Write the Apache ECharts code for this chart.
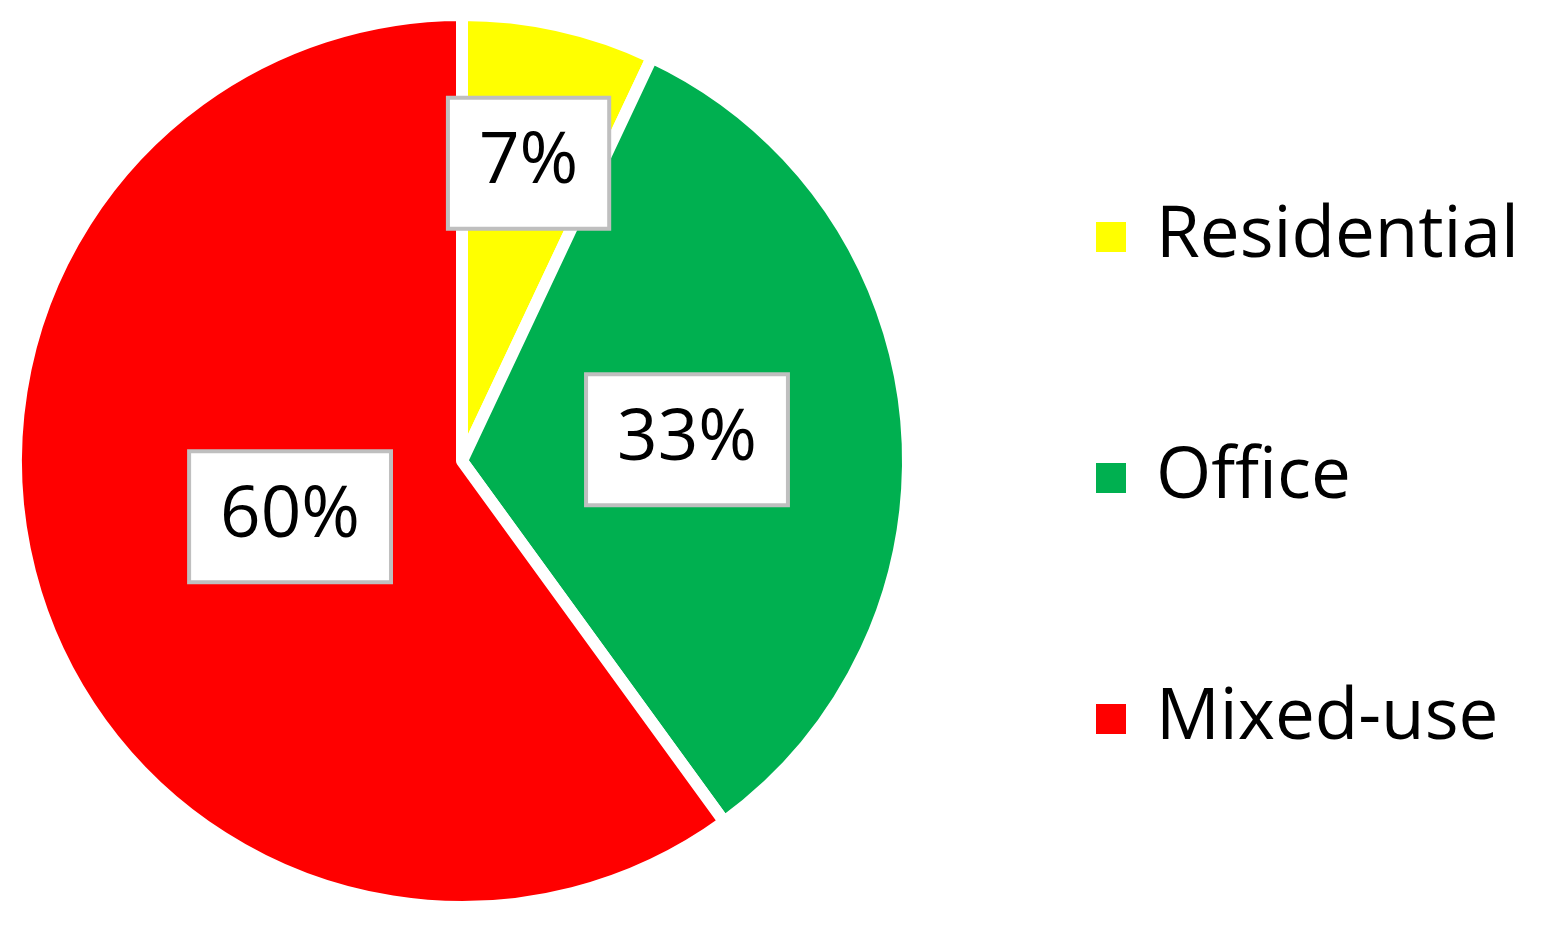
<!DOCTYPE html>
<html>
<head>
<meta charset="utf-8">
<script src="https://cdn.jsdelivr.net/npm/echarts@6/dist/echarts.min.js"></script>
<style>
  html, body { margin: 0; padding: 0; background: #fff; }
  #chart_1 { width: 1541px; height: 926px; }
</style>
</head>
<body>
<div id="chart_1"></div>
<script>
var categories = ['Residential', 'Office', 'Mixed-use'];
var shares = [7, 33, 60];
var colors = ['#FFFF00', '#00B050', '#FF0000'];
// how far out each label sits, relative to the middle of the radius
var labelPush = [1.35, 1.0, 0.8];

var center = [462, 461];

var chart_1 = echarts.init(document.getElementById('chart_1'));

var dataArray = [];
for (var i = 0; i < categories.length; i++) {
    dataArray.push({
        name: categories[i],
        value: shares[i],
        itemStyle: { color: colors[i] }
    });
}

var option = {
    animation: false,
    backgroundColor: '#fff',
    legend: {
        orient: 'vertical',
        left: 1089,
        top: 192,
        icon: 'rect',
        itemWidth: 32,
        itemHeight: 32,
        itemGap: 161,
        data: categories,
        textStyle: {
            fontFamily: 'Open Sans',
            fontSize: 71,
            lineHeight: 80,
            color: '#000',
            padding: [0, 0, 0, 24]
        }
    },
    series: [{
        type: 'pie',
        center: center,
        radius: 446,
        startAngle: 90,
        clockwise: true,
        data: dataArray,
        itemStyle: {
            borderColor: '#fff',
            borderWidth: 12
        },
        label: {
            show: true,
            position: 'inside',
            formatter: '{c}%',
            fontFamily: 'Open Sans',
            fontSize: 71,
            lineHeight: 72,
            color: '#000',
            backgroundColor: '#fff',
            borderColor: '#BFBFBF',
            borderWidth: 4,
            padding: [30, 29, 25, 29]
        },
        labelLine: { show: false },
        labelLayout: function (params) {
            var r = params.labelRect;
            var cx = r.x + r.width / 2;
            var cy = r.y + r.height / 2;
            var k = labelPush[params.dataIndex];
            return {
                x: center[0] + (cx - center[0]) * k,
                y: center[1] + (cy - center[1]) * k,
                align: 'center',
                verticalAlign: 'middle'
            };
        },
        emphasis: { disabled: true }
    }]
};

chart_1.setOption(option);
</script>
</body>
</html>
